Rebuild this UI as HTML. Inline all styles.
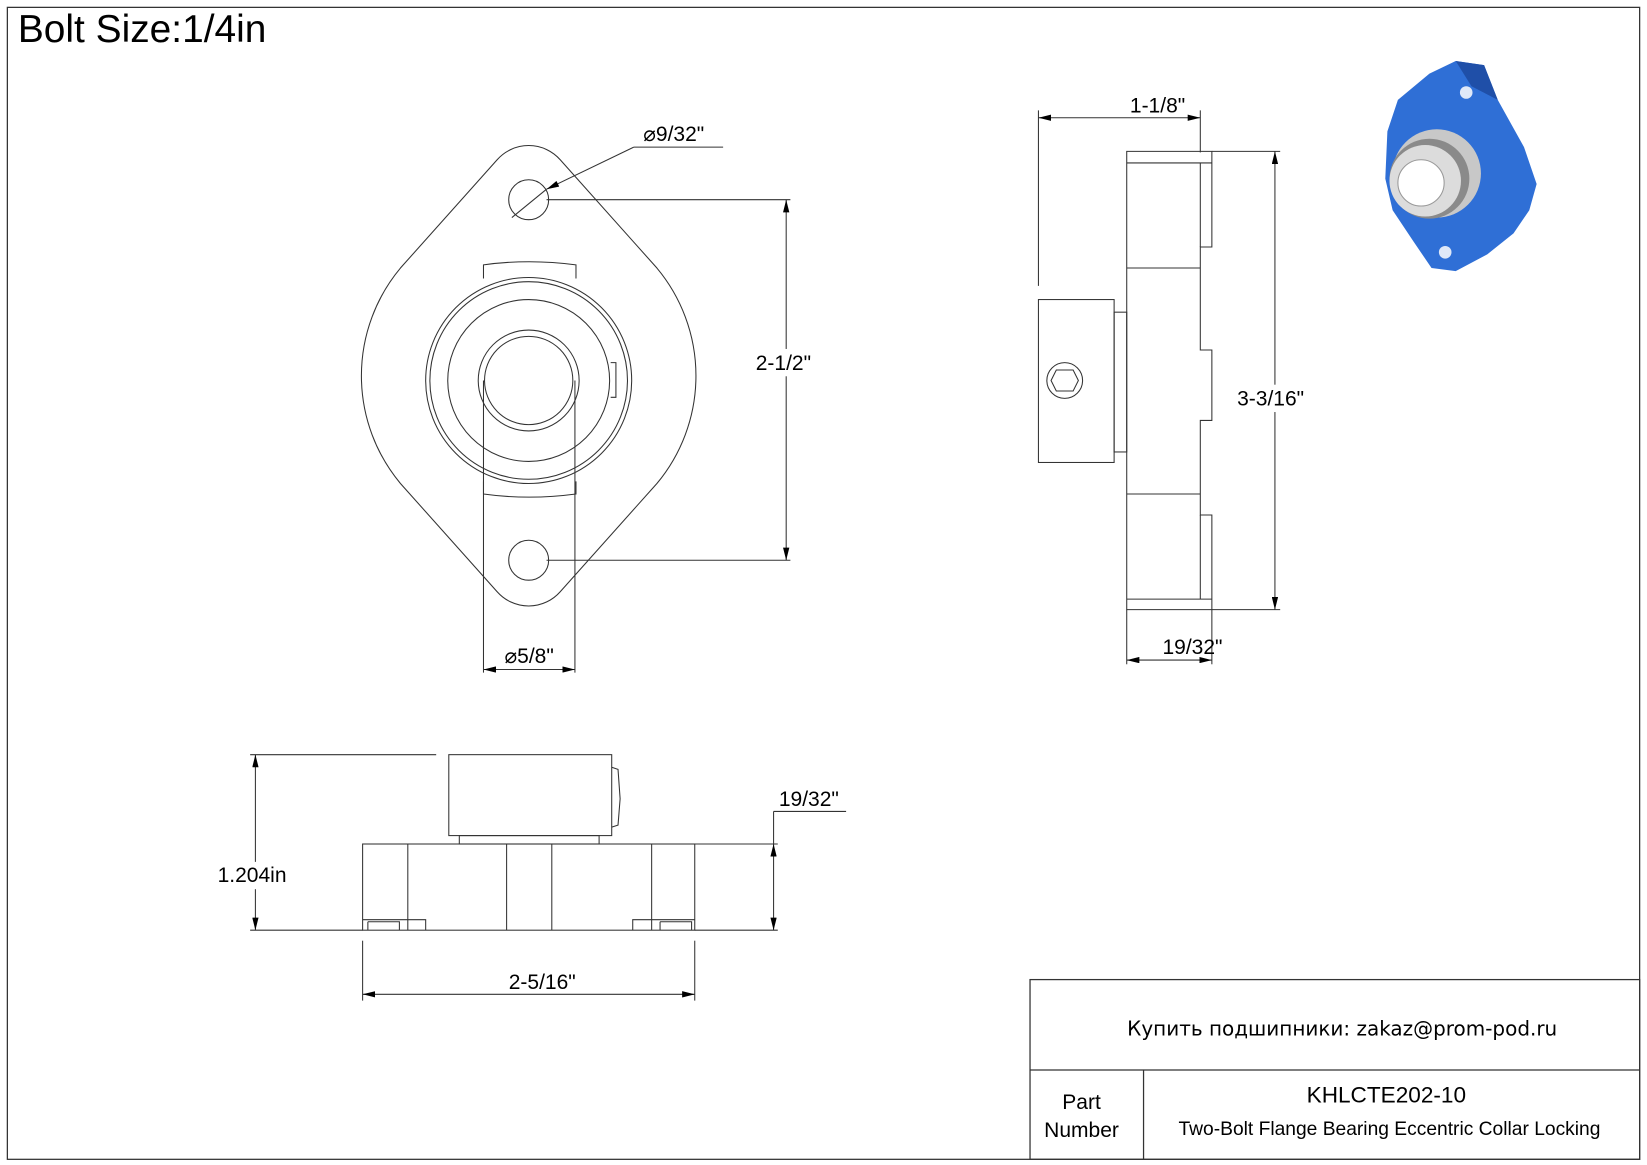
<!DOCTYPE html>
<html><head><meta charset="utf-8"><style>body{margin:0;background:#fff}svg{display:block}</style></head><body>
<svg width="1647" height="1165" viewBox="0 0 1567 1108.4" xmlns="http://www.w3.org/2000/svg" font-family="Liberation Sans, sans-serif">
<defs><marker id="a" viewBox="0 0 12 6" refX="12" refY="3" markerWidth="12" markerHeight="6" orient="auto-start-reverse" markerUnits="userSpaceOnUse"><path d="M0,0 L12,3 L0,6 Z" fill="#000"/></marker></defs>
<rect x="7" y="7" width="1553" height="1096" fill="none" stroke="#333" stroke-width="1.2"/>
<text x="17" y="40" font-size="37">Bolt Size:1/4in</text>
<g fill="none" stroke="#333" stroke-width="1">
<path d="M473,152 A40 40 0 0 1 533,152 L625,255 A160 160 0 0 1 625,460 L533,563 A40 40 0 0 1 473,563 L381,460 A160 160 0 0 1 381,255 Z"/>
<circle cx="503" cy="190" r="19"/><circle cx="503" cy="533" r="19"/>
<circle cx="503" cy="362" r="98"/><circle cx="503" cy="362" r="94"/><circle cx="503" cy="362" r="77"/>
<circle cx="503" cy="362" r="48"/><circle cx="503" cy="362" r="42"/>
<path d="M460,265 L460,252 Q503,246 548,252 L548,265"/><path d="M460,458 L460,470 Q503,476 548,470 L548,458"/>
<path d="M581,345 L586,345 L586,378 L581,378"/>
<line x1="460" y1="362" x2="460" y2="640"/><line x1="547" y1="362" x2="547" y2="640"/>
<line x1="460" y1="637" x2="547" y2="637" marker-start="url(#a)" marker-end="url(#a)"/>
<line x1="603" y1="140" x2="520" y2="180" marker-end="url(#a)"/><line x1="520" y1="180" x2="487" y2="207"/><line x1="603" y1="140" x2="688" y2="140"/>
<line x1="520" y1="190" x2="752" y2="190"/><line x1="520" y1="533" x2="752" y2="533"/>
<line x1="748" y1="190" x2="748" y2="533" marker-start="url(#a)" marker-end="url(#a)"/>
<line x1="988" y1="105" x2="988" y2="272"/><line x1="1142" y1="105" x2="1142" y2="145"/>
<line x1="988" y1="112" x2="1142" y2="112" marker-start="url(#a)" marker-end="url(#a)"/>
<path d="M1072,144 L1153,144 L1153,235 L1142,235 L1142,333 L1153,333 L1153,400 L1142,400 L1142,490 L1153,490 L1153,580 L1072,580 Z"/>
<line x1="1072" y1="155" x2="1153" y2="155"/><line x1="1072" y1="255" x2="1142" y2="255"/><line x1="1072" y1="470" x2="1142" y2="470"/><line x1="1072" y1="570" x2="1153" y2="570"/>
<line x1="1142" y1="155" x2="1142" y2="235"/><line x1="1142" y1="490" x2="1142" y2="570"/>
<rect x="988" y="285" width="72" height="155"/><rect x="1060" y="297" width="12" height="133"/>
<circle cx="1013" cy="362" r="17"/><path d="M1005,352 L1021,352 L1026,362 L1021,372 L1005,372 L1000,362 Z"/>
<line x1="1153" y1="144" x2="1218" y2="144"/><line x1="1153" y1="580" x2="1218" y2="580"/>
<line x1="1213" y1="144" x2="1213" y2="580" marker-start="url(#a)" marker-end="url(#a)"/>
<line x1="1072" y1="580" x2="1072" y2="632"/><line x1="1153" y1="580" x2="1153" y2="632"/>
<line x1="1072" y1="628" x2="1153" y2="628" marker-start="url(#a)" marker-end="url(#a)"/>
<rect x="345" y="803" width="316" height="82"/>
<rect x="427" y="718" width="155" height="77"/><rect x="437" y="795" width="133" height="8"/>
<path d="M582,730 L588,732 L590,760 L588,785 L582,787"/>
<line x1="388" y1="803" x2="388" y2="875"/><line x1="482" y1="803" x2="482" y2="885"/><line x1="525" y1="803" x2="525" y2="885"/><line x1="620" y1="803" x2="620" y2="875"/>
<path d="M345,875 L405,875 L405,885 M388,875 L388,885 M350,877 L380,877 L380,885 M350,877 L350,885"/>
<path d="M661,875 L602,875 L602,885 M620,875 L620,885 M628,877 L658,877 L658,885 M628,877 L628,885"/>
<line x1="238" y1="718" x2="415" y2="718"/><line x1="238" y1="885" x2="345" y2="885"/>
<line x1="243" y1="718" x2="243" y2="885" marker-start="url(#a)" marker-end="url(#a)"/>
<line x1="661" y1="803" x2="740" y2="803"/><line x1="661" y1="885" x2="740" y2="885"/>
<line x1="736" y1="803" x2="736" y2="885" marker-start="url(#a)" marker-end="url(#a)"/>
<line x1="736" y1="772" x2="805" y2="772"/><line x1="736" y1="772" x2="736" y2="803"/>
<line x1="345" y1="895" x2="345" y2="952"/><line x1="661" y1="895" x2="661" y2="952"/>
<line x1="345" y1="946" x2="661" y2="946" marker-start="url(#a)" marker-end="url(#a)"/>
<rect x="980" y="932" width="580" height="171" stroke-width="1.2"/>
<line x1="980" y1="1018" x2="1560" y2="1018" stroke-width="1.2"/><line x1="1088" y1="1018" x2="1088" y2="1103" stroke-width="1.2"/>
</g>
<g font-size="20" fill="#000">
<text x="612" y="134">⌀9/32"</text>
<rect x="718" y="332" width="62" height="26" fill="#fff"/><text x="719" y="352">2-1/2"</text>
<text x="480" y="631">⌀5/8"</text>
<text x="1075" y="107">1-1/8"</text>
<rect x="1176" y="366" width="74" height="26" fill="#fff"/><text x="1177" y="386">3-3/16"</text>
<text x="1106" y="622">19/32"</text>
<rect x="205" y="820" width="76" height="26" fill="#fff"/><text x="207" y="839">1.204in</text>
<text x="741" y="767">19/32"</text>
<text x="484" y="941">2-5/16"</text>
</g>
<text x="1277" y="985" font-size="19" text-anchor="middle" font-family="DejaVu Sans, sans-serif">Купить подшипники: zakaz@prom-pod.ru</text>
<text x="1029" y="1055" font-size="20" text-anchor="middle">Part</text>
<text x="1029" y="1082" font-size="20" text-anchor="middle">Number</text>
<text x="1319" y="1049" font-size="21.5" text-anchor="middle">KHLCTE202-10</text>
<text x="1322" y="1080" font-size="18.3" text-anchor="middle">Two-Bolt Flange Bearing Eccentric Collar Locking</text>
<g>
<path d="M1330,95 L1360,70 L1385,58 L1412,62 L1425,95 L1450,140 L1462,175 L1455,200 L1440,222 L1415,242 L1385,258 L1362,255 L1345,230 L1325,200 L1318,170 L1320,125 Z" fill="#2f6fd6"/>
<path d="M1385,58 L1412,62 L1425,95 L1400,82 Z" fill="#1f4fa8"/>
<circle cx="1367" cy="165" r="42" fill="#c8c8c8"/>
<circle cx="1360" cy="170" r="38" fill="#8a8a8a"/>
<circle cx="1356" cy="172" r="34" fill="#dcdcdc"/>
<circle cx="1352" cy="174" r="22" fill="#fff" stroke="#999"/>
<circle cx="1395" cy="88" r="6" fill="#dfe8f8"/><circle cx="1375" cy="240" r="6" fill="#dfe8f8"/>
</g>
</svg>
</body></html>
